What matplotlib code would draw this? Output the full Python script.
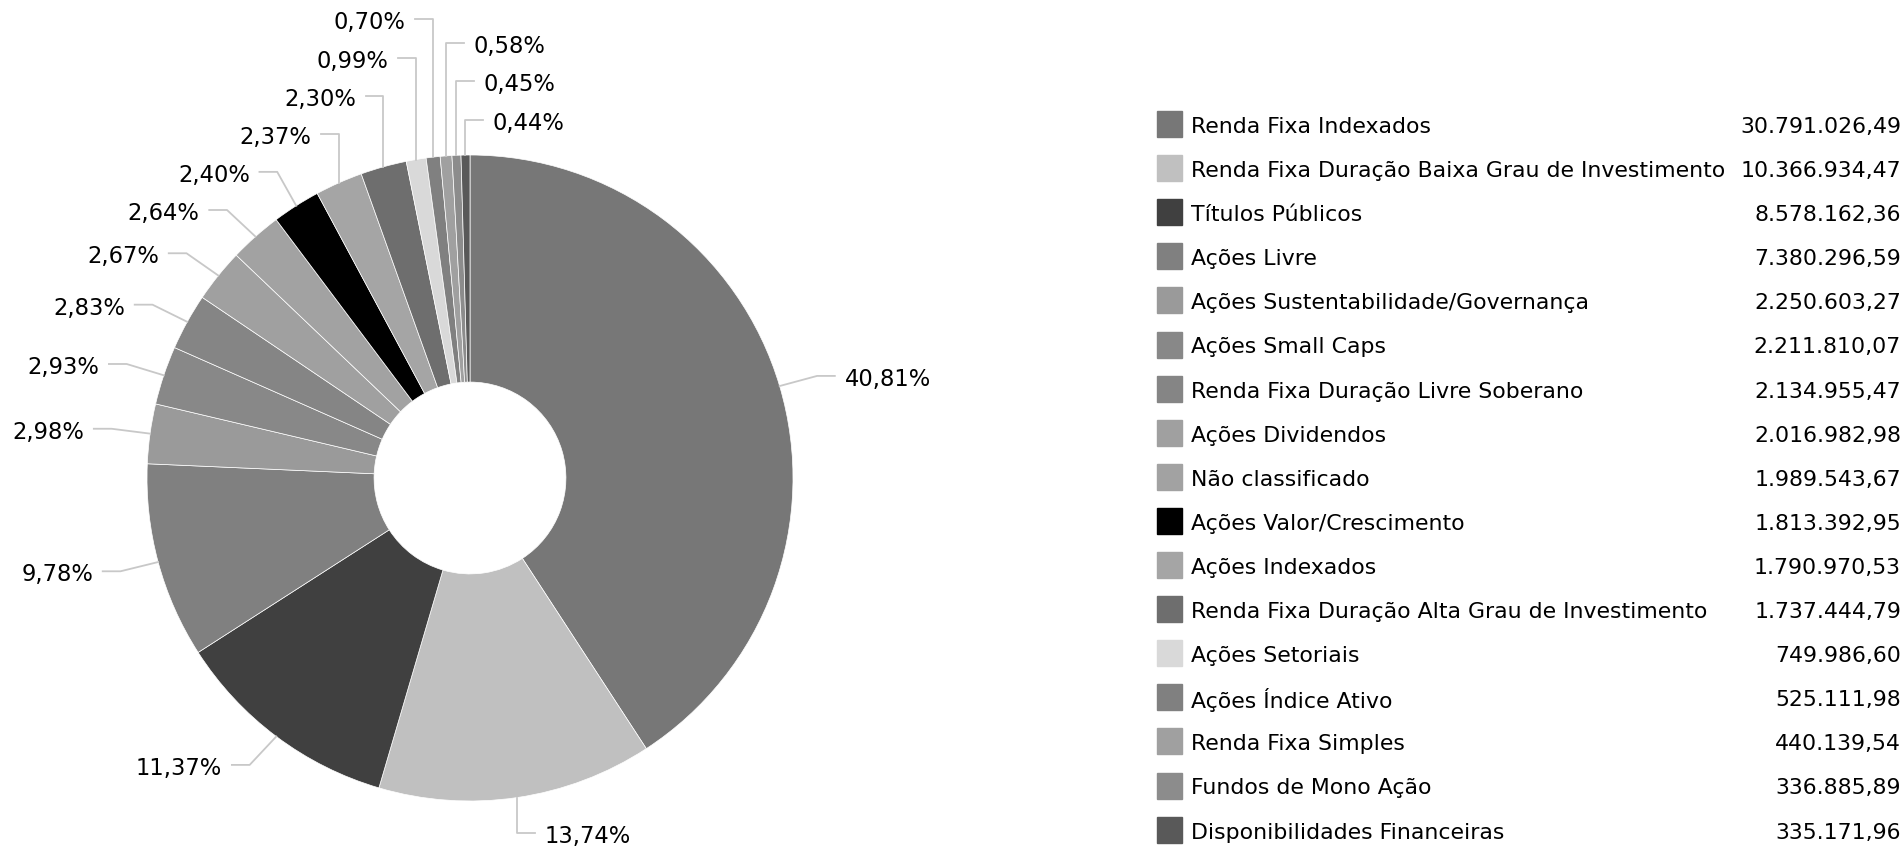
import numpy as np
import matplotlib
matplotlib.use("Agg")
import matplotlib.pyplot as plt
from matplotlib.patches import Rectangle

# categorias e valores (R$)
categorias = ["Renda Fixa Indexados",
              "Renda Fixa Duração Baixa Grau de Investimento",
              "Títulos Públicos",
              "Ações Livre",
              "Ações Sustentabilidade/Governança",
              "Ações Small Caps",
              "Renda Fixa Duração Livre Soberano",
              "Ações Dividendos",
              "Não classificado",
              "Ações Valor/Crescimento",
              "Ações Indexados",
              "Renda Fixa Duração Alta Grau de Investimento",
              "Ações Setoriais",
              "Ações Índice Ativo",
              "Renda Fixa Simples",
              "Fundos de Mono Ação",
              "Disponibilidades Financeiras"]
valores = [30791026.49, 10366934.47, 8578162.36, 7380296.59, 2250603.27,
           2211810.07, 2134955.47, 2016982.98, 1989543.67, 1813392.95,
           1790970.53, 1737444.79, 749986.60, 525111.98, 440139.54,
           336885.89, 335171.96]
cores = ["#777777", "#c0c0c0", "#404040", "#808080", "#9a9a9a",
         "#888888", "#858585", "#a0a0a0", "#a2a2a2", "#000000",
         "#a5a5a5", "#6e6e6e", "#d9d9d9", "#808080", "#a0a0a0",
         "#8c8c8c", "#595959"]


def fmt_br(v, dec=2):
    s = f"{v:,.{dec}f}"
    return s.replace(",", "X").replace(".", ",").replace("X", ".")


W, H = 1903, 854
fig = plt.figure(figsize=(W / 100, H / 100), dpi=100)

# pizza (rosca)
cx, cy, R = 470, 479, 323
lim = 1.5
ax = fig.add_axes([(cx - lim * R) / W, (H - cy - lim * R) / H,
                   2 * lim * R / W, 2 * lim * R / H])
ax.pie(valores, colors=cores, startangle=90, counterclock=False, radius=1,
       wedgeprops=dict(width=1 - 0.297, edgecolor="white", linewidth=0.5))
ax.set_xlim(-lim, lim)
ax.set_ylim(-lim, lim)
ax.set_aspect("equal")
ax.axis("off")

# rótulos de porcentagem com linhas de chamada
total = sum(valores)
pct = [v / total * 100 for v in valores]
cum = np.cumsum(valores) / total
mid = cum - np.array(valores) / total / 2
ang = 90 - 360 * mid
ang = np.where(ang <= -90, ang + 360, ang)

RY, RE, GAP = 1.11, 1.12, 0.118
SEG, PAD = 0.055, 0.03
TOPO = 1.08   # acima disso a linha sobe na vertical
direita = [i for i in range(len(valores)) if ang[i] < 95]
esquerda = [i for i in range(len(valores)) if ang[i] >= 95]
direita.sort(key=lambda i: ang[i])
esquerda.sort(key=lambda i: -ang[i])

for lado, idx in ((1, direita), (-1, esquerda)):
    prev = -10
    for i in idx:
        a = np.radians(ang[i])
        axp, ayp = np.cos(a), np.sin(a)
        y = max(RY * ayp, prev + GAP)
        prev = y
        if abs(y) > TOPO:
            ex = axp
        else:
            ex = lado * max(np.sqrt(RE ** 2 - y ** 2), lado * axp)
        ax.plot([axp, ex, ex + lado * SEG], [ayp, y, y], color="#c8c8c8",
                lw=1.3, clip_on=False, zorder=1)
        ax.text(ex + lado * (SEG + PAD), y, fmt_br(pct[i]) + "%",
                ha="left" if lado > 0 else "right", va="center_baseline",
                fontsize=16.3, color="#000000", family="DejaVu Sans")

# legenda
lax = fig.add_axes([0, 0, 1, 1])
lax.set_xlim(0, W)
lax.set_ylim(H, 0)
lax.axis("off")
y0, dy = 125, 44.1
for i, (nome, v, c) in enumerate(zip(categorias, valores, cores)):
    y = y0 + i * dy
    lax.add_patch(Rectangle((1157, y - 13), 25, 26, color=c))
    lax.text(1191, y, nome, ha="left", va="center_baseline", fontsize=15.8,
             color="#000000", family="DejaVu Sans")
    lax.text(1901, y, fmt_br(v), ha="right", va="center_baseline",
             fontsize=15.8, color="#000000", family="DejaVu Sans")

fig.savefig("out.png", dpi=100)
